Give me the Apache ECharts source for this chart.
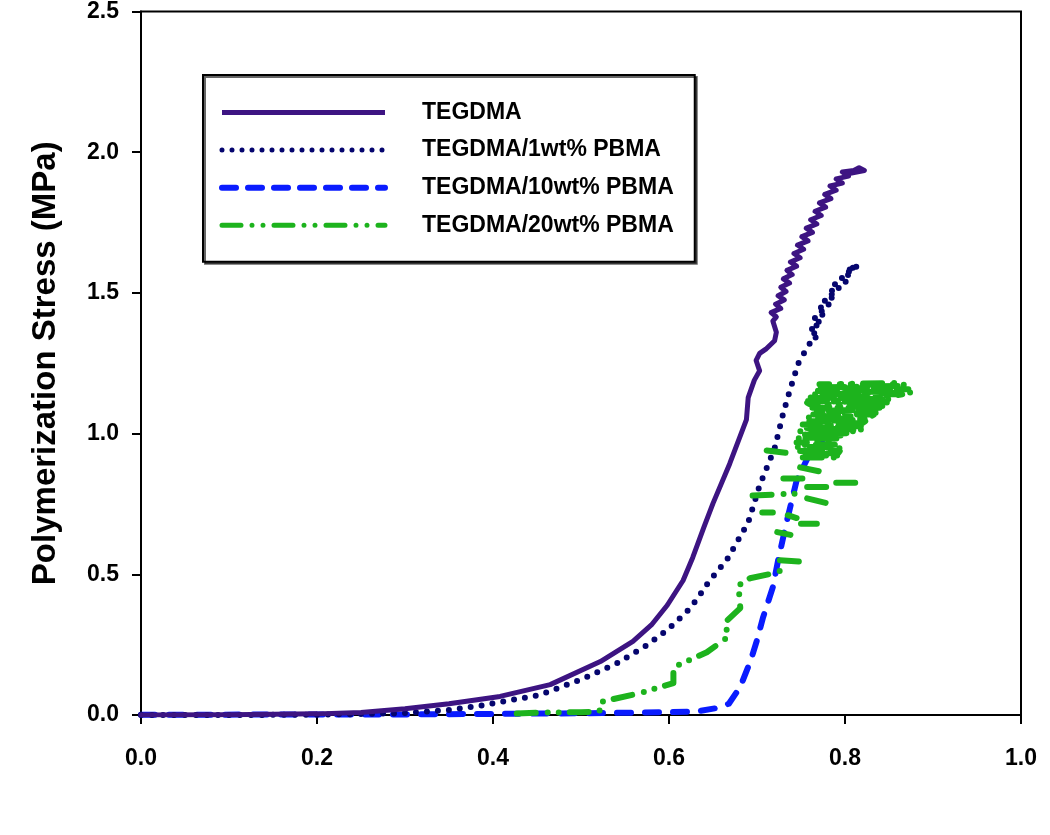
<!DOCTYPE html>
<html>
<head>
<meta charset="utf-8">
<script src="https://cdn.jsdelivr.net/npm/echarts@6/dist/echarts.min.js"></script>
<style>html,body{margin:0;padding:0;background:#fff;}#c{width:1050px;height:835px;}</style>
</head>
<body>
<div id="c"></div>
<script>
const seriesNames = ['TEGDMA', 'TEGDMA/1wt% PBMA', 'TEGDMA/10wt% PBMA', 'TEGDMA/20wt% PBMA'];
const xTicks = [0.0, 0.2, 0.4, 0.6, 0.8, 1.0];
const yTicks = [0.0, 0.5, 1.0, 1.5, 2.0, 2.5];

const tegdma = [
  [0,0],[0.1,0.001],[0.2,0.004],[0.25,0.009],[0.3,0.022],[0.35,0.04],[0.408,0.066],[0.465,0.108],
  [0.522,0.19],[0.559,0.262],[0.58,0.32],[0.598,0.39],[0.616,0.478],[0.627,0.56],[0.64,0.67],
  [0.65,0.752],[0.669,0.893],[0.688,1.05],[0.69,1.128],[0.697,1.19],[0.703,1.223],[0.699,1.26],
  [0.703,1.285],[0.71,1.30],[0.72,1.33],[0.722,1.36],[0.718,1.40],[0.722,1.415],[0.716,1.43],
  [0.727,1.445],[0.721,1.46],[0.731,1.475],[0.724,1.49],[0.733,1.505],[0.727,1.52],[0.737,1.535],
  [0.730,1.55],[0.740,1.565],[0.734,1.58],[0.745,1.595],[0.738,1.61],[0.749,1.625],[0.742,1.64],
  [0.753,1.655],[0.746,1.67],[0.758,1.685],[0.751,1.70],[0.763,1.715],[0.756,1.73],[0.768,1.745],
  [0.761,1.76],[0.773,1.775],[0.766,1.79],[0.778,1.805],[0.771,1.82],[0.784,1.835],[0.777,1.85],
  [0.790,1.865],[0.783,1.88],[0.797,1.89],[0.790,1.905],[0.804,1.915],[0.797,1.93],[0.810,1.935],
  [0.816,1.945],[0.822,1.935],[0.806,1.925]
];
const pbma1 = [
  [0,0],[0.1,0],[0.2,0.001],[0.294,0.006],[0.35,0.018],[0.389,0.035],[0.453,0.071],[0.503,0.13],
  [0.541,0.184],[0.575,0.248],[0.599,0.305],[0.61,0.337],[0.624,0.379],[0.635,0.426],[0.644,0.468],
  [0.654,0.507],[0.666,0.553],[0.69,0.684],[0.703,0.816],[0.72,0.947],[0.73,1.075],[0.738,1.16],
  [0.747,1.25],[0.756,1.30],[0.762,1.33],[0.768,1.34],[0.760,1.35],[0.768,1.36],[0.761,1.37],
  [0.771,1.38],[0.763,1.39],[0.773,1.40],[0.765,1.41],[0.776,1.42],[0.768,1.43],[0.779,1.44],
  [0.771,1.45],[0.783,1.46],[0.775,1.47],[0.787,1.48],[0.779,1.49],[0.791,1.50],[0.783,1.51],
  [0.796,1.52],[0.788,1.53],[0.801,1.54],[0.793,1.55],[0.806,1.56],[0.798,1.57],[0.811,1.58],
  [0.803,1.585],[0.816,1.595],[0.808,1.59],[0.818,1.585]
];
const pbma10 = [
  [0,0.001],[0.3,0.002],[0.5,0.006],[0.6,0.01],[0.63,0.012],[0.655,0.025],[0.668,0.04],
  [0.681,0.1],[0.693,0.195],[0.70,0.266],[0.707,0.348],[0.718,0.454],[0.724,0.55],[0.734,0.69],
  [0.745,0.833],[0.76,0.929],[0.781,1.0],[0.80,1.02]
];
const pbma20 = [
  [0.427,0.005],[0.45,0.008],[0.5,0.01],[0.521,0.012],[0.522,0.046],[0.567,0.078],[0.605,0.113],
  [0.605,0.17],[0.643,0.223],[0.667,0.277],[0.664,0.33],[0.681,0.38],[0.679,0.46],[0.692,0.486],
  [0.718,0.503],[0.737,0.525],['-','-'],
  [0.726,0.55],[0.749,0.545],['-','-'],
  [0.723,0.65],[0.738,0.64],['-','-'],
  [0.750,0.68],[0.768,0.68],['-','-'],
  [0.706,0.72],[0.718,0.72],['-','-'],
  [0.735,0.71],[0.745,0.70],['-','-'],
  [0.757,0.77],[0.783,0.75],['-','-'],
  [0.695,0.78],[0.745,0.787],['-','-'],
  [0.757,0.81],[0.780,0.81],['-','-'],
  [0.790,0.825],[0.817,0.825],['-','-'],
  [0.730,0.84],[0.760,0.84],['-','-'],
  [0.749,0.88],[0.780,0.86],['-','-'],
  [0.711,0.94],[0.737,0.93],['-','-'],
  [0.752,0.915],[0.795,0.915],[0.792,0.922],[0.751,0.922],[0.750,0.93],[0.792,0.93],[0.794,0.938],
  [0.749,0.938],[0.748,0.945],[0.795,0.945],[0.792,0.952],[0.746,0.952],[0.745,0.96],[0.790,0.96],
  [0.791,0.968],[0.745,0.968],[0.745,0.975],[0.790,0.975],[0.791,0.983],[0.745,0.983],[0.745,0.99],
  [0.792,0.99],[0.798,0.996],[0.748,0.996],[0.750,1.002],[0.805,1.002],[0.812,1.008],[0.749,1.008],
  [0.749,1.014],[0.820,1.014],[0.819,1.02],[0.751,1.02],[0.752,1.026],[0.818,1.026],[0.819,1.032],
  [0.752,1.032],[0.752,1.038],[0.820,1.038],[0.823,1.044],[0.754,1.044],[0.755,1.05],[0.826,1.05],
  [0.828,1.056],[0.758,1.056],[0.762,1.062],[0.830,1.062],[0.833,1.068],[0.764,1.068],[0.766,1.074],
  [0.835,1.074],[0.838,1.08],[0.765,1.08],[0.764,1.086],[0.840,1.086],[0.843,1.092],[0.763,1.092],
  [0.762,1.098],[0.845,1.098],[0.848,1.104],[0.760,1.104],[0.757,1.11],[0.850,1.11],[0.851,1.116],
  [0.758,1.116],[0.760,1.122],[0.852,1.122],[0.854,1.128],[0.761,1.128],[0.762,1.134],[0.855,1.134],
  [0.865,1.14],[0.764,1.14],[0.766,1.146],[0.875,1.146],[0.874,1.152],[0.767,1.152],[0.768,1.158],
  [0.872,1.158],[0.871,1.164],[0.769,1.164],[0.770,1.17],[0.870,1.17],[0.866,1.175],[0.771,1.175],
  [0.772,1.18],[0.862,1.18]
];

const colors = ['#3d1482', '#05056e', '#0a1cff', '#1db31d'];
const lineTypes = ['solid', [0, 11], [14, 14], [19, 12, 0, 11, 0, 11]];
const legendTypes = ['solid', [0, 10], [14, 12], [19, 11, 0, 11, 0, 11]];
const widths = [5, 6, 6, 6];
const legendWidths = [5, 5, 6, 5];
const dataSets = [tegdma, pbma1, pbma10, pbma20];

const FONT = '"Liberation Sans", Arial, sans-serif';
const chart = echarts.init(document.getElementById('c'), null, {renderer: 'canvas'});

chart.setOption({
  animation: false,
  backgroundColor: '#fff',
  grid: {left: 141, right: 29, top: 10, bottom: 120, show: true, borderColor: '#000', borderWidth: 2, backgroundColor: 'transparent'},
  xAxis: {
    type: 'value', min: 0, max: 1, interval: 0.2,
    axisLine: {show: true, lineStyle: {color: '#000', width: 2}},
    axisTick: {show: true, inside: false, length: 9, lineStyle: {color: '#000', width: 2}},
    splitLine: {show: false},
    axisLabel: {margin: 32, color: '#000', fontFamily: FONT, fontWeight: 'bold', fontSize: 23,
      formatter: v => xTicks.find(t => Math.abs(t - v) < 1e-9) !== undefined ? v.toFixed(1) : ''}
  },
  yAxis: {
    type: 'value', min: 0, max: 2.5, interval: 0.5,
    name: 'Polymerization Stress (MPa)', nameLocation: 'middle', nameRotate: 90, nameGap: 79,
    nameTextStyle: {color: '#000', fontFamily: FONT, fontWeight: 'bold', fontSize: 33},
    axisLine: {show: true, lineStyle: {color: '#000', width: 2}},
    axisTick: {show: true, inside: false, length: 9, lineStyle: {color: '#000', width: 2}},
    splitLine: {show: false},
    axisLabel: {margin: 22, color: '#000', fontFamily: FONT, fontWeight: 'bold', fontSize: 23,
      formatter: v => yTicks.find(t => Math.abs(t - v) < 1e-9) !== undefined ? v.toFixed(1) : ''}
  },
  legend: {
    left: 203, top: 75, orient: 'vertical',
    backgroundColor: '#fff', borderColor: '#000', borderWidth: 2,
    shadowColor: 'rgba(0,0,0,0.6)', shadowOffsetX: 2, shadowOffsetY: 2, shadowBlur: 0,
    padding: [26, 21, 25, 16],
    itemWidth: 163, itemHeight: 20, itemGap: 14.6,
    textStyle: {color: '#000', fontFamily: FONT, fontWeight: 'bold', fontSize: 23, lineHeight: 20, padding: [0, 0, 0, 32]},
    data: seriesNames.map((n, i) => ({
      name: n,
      lineStyle: {color: colors[i], width: legendWidths[i], type: legendTypes[i], cap: i === 0 ? 'butt' : 'round'},
      itemStyle: {color: colors[i], opacity: 0, borderWidth: 0}
    }))
  },
  series: dataSets.map((d, i) => ({
    name: seriesNames[i], type: 'line', data: d, symbol: 'none', showSymbol: false,
    connectNulls: false, z: 10 - i + (i === 3 ? 4 : 0),
    lineStyle: {color: colors[i], width: widths[i], type: lineTypes[i], cap: 'round', join: 'round'},
    itemStyle: {color: colors[i]}
  }))
});
</script>
</body>
</html>
